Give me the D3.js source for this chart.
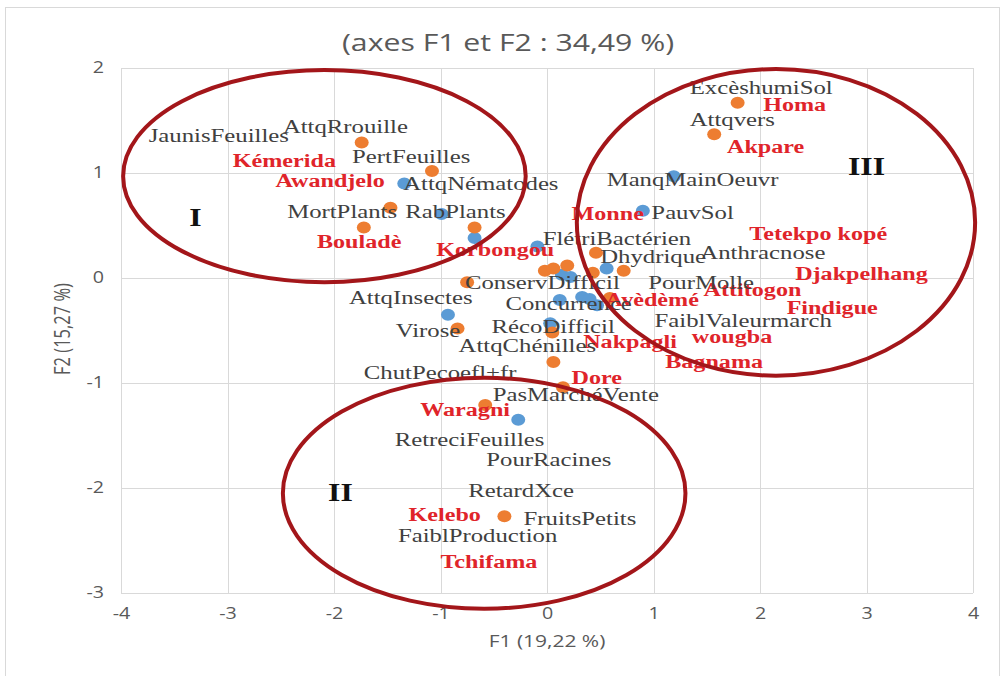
<!DOCTYPE html>
<html>
<head>
<meta charset="utf-8">
<script src="https://cdn.jsdelivr.net/npm/d3@7"></script>
<style>
  html, body { margin: 0; padding: 0; background: #fff; }
  svg { display: block; }
</style>
</head>
<body>
<svg id="chart" width="1006" height="676"></svg>
<script>
// Axis ticks
const xTicks = [-4, -3, -2, -1, 0, 1, 2, 3, 4];
const yTicks = [-3, -2, -1, 0, 1, 2];

// Observation scores (orange series) on F1 / F2
const obsF1 = [1.79, 1.57, -1.74, -1.08, -1.47, -1.72, -0.68, 0.46, -0.02, 0.06, 0.19, 0.43, 0.72, -0.75, 0.59, -0.84, 0.05, 0.06, 0.15, -0.58, -0.40];
const obsF2 = [1.67, 1.37, 1.29, 1.02, 0.67, 0.48, 0.48, 0.24, 0.07, 0.09, 0.12, 0.05, 0.07, -0.04, -0.19, -0.48, -0.52, -0.80, -1.04, -1.21, -2.27];

// Variable scores (blue series) on F1 / F2
const varF1 = [1.19, 0.90, -1.34, -0.99, -0.68, -0.09, 0.14, 0.22, 0.56, 0.12, 0.33, 0.40, 0.47, -0.93, 0.03, -0.27];
const varF2 = [0.97, 0.64, 0.90, 0.61, 0.38, 0.30, 0.03, 0.01, 0.09, -0.21, -0.18, -0.20, -0.26, -0.35, -0.43, -1.35];

// Variable names and where they sit on the map (F1, F2)
const varNames = ["JaunisFeuilles", "AttqRrouille", "PertFeuilles", "AttqNématodes", "MortPlants", "RabPlants",
  "FlétriBactérien", "Dhydrique", "Anthracnose", "ExcèshumiSol", "Attqvers", "ManqMainOeuvr", "PauvSol",
  "ConservDifficil", "PourMolle", "Concurrence", "AttqInsectes", "Virose", "RécoDifficil", "AttqChénilles",
  "FaiblValeurmarch", "ChutPecoefl+fr", "PasMarchéVente", "RetreciFeuilles", "PourRacines", "RetardXce",
  "FruitsPetits", "FaiblProduction"];
const varNameF1 = [-3.74, -2.48, -1.83, -1.35, -2.44, -1.33, -0.04, 0.50, 1.44, 1.34, 1.34, 0.56, 0.98,
  -0.77, 0.95, -0.39, -1.86, -1.42, -0.52, -0.83, 1.01, -1.72, -0.51, -1.43, -0.57, -0.74, -0.22, -1.40];
const varNameF2 = [1.36, 1.44, 1.16, 0.90, 0.63, 0.63, 0.38, 0.20, 0.24, 1.81, 1.51, 0.94, 0.62,
  -0.04, -0.04, -0.24, -0.19, -0.50, -0.46, -0.64, -0.41, -0.90, -1.11, -1.54, -1.73, -2.02, -2.29, -2.45];

// Village names and where they sit on the map (F1, F2)
const siteNames = ["Homa", "Akpare", "Kémerida", "Awandjelo", "Bouladè", "Korbongou", "Monne", "Tetekpo kopé",
  "Djakpelhang", "Attitogon", "Findigue", "Avèdèmé", "Nakpagli", "wougba", "Bagnama", "Dore", "Waragni",
  "Kelebo", "Tchifama"];
const siteNameF1 = [2.03, 1.69, -2.95, -2.55, -2.16, -1.04, 0.23, 1.90, 2.33, 1.47, 2.25, 0.55, 0.34, 1.36, 1.11, 0.23, -1.19, -1.30, -1.00];
const siteNameF2 = [1.65, 1.25, 1.12, 0.93, 0.35, 0.27, 0.61, 0.42, 0.04, -0.11, -0.28, -0.21, -0.61, -0.56, -0.80, -0.95, -1.25, -2.25, -2.70];

// Groups drawn as ellipses: label, centre (F1, F2), half-widths (F1, F2)
const groupLabels = ["I", "II", "III"];
const groupCF1 = [-2.09, -0.59, 2.15];
const groupCF2 = [0.97, -2.05, 0.53];
const groupRF1 = [1.89, 1.89, 1.87];
const groupRF2 = [1.01, 1.10, 1.46];
const groupLabelF1 = [-3.30, -1.94, 3.00];
const groupLabelF2 = [0.58, -2.04, 1.06];

const svg = d3.select("#chart");
const plotLeft = 121, plotRight = 973, plotTop = 68, plotBottom = 593;
const stretch = 1.27;          // text is drawn wide relative to its height
const sans = "'Open Sans', sans-serif";
const serif = "'Liberation Serif', 'Times New Roman', serif";

const x = d3.scaleLinear().domain([-4, 4]).range([plotLeft, plotRight]);
const y = d3.scaleLinear().domain([-3, 2]).range([plotBottom, plotTop]);

// outer frame
svg.append("rect")
  .attr("x", 5.5).attr("y", 7.5).attr("width", 994).attr("height", 700)
  .attr("fill", "none").attr("stroke", "#d9d9d9").attr("stroke-width", 1);

// title
svg.append("text")
  .attr("transform", `translate(508,51) scale(${stretch},1)`)
  .attr("text-anchor", "middle")
  .attr("font-family", sans)
  .attr("font-size", 23.8)
  .attr("fill", "#595959")
  .text("(axes F1 et F2 : 34,49 %)");

// grid
const grid = svg.append("g").attr("stroke", "#d9d9d9").attr("stroke-width", 1);
grid.selectAll("line.v").data(xTicks).join("line")
  .attr("x1", d => Math.round(x(d)) + 0.5).attr("x2", d => Math.round(x(d)) + 0.5)
  .attr("y1", plotTop).attr("y2", plotBottom);
grid.selectAll("line.h").data(yTicks).join("line")
  .attr("y1", d => Math.round(y(d)) + 0.5).attr("y2", d => Math.round(y(d)) + 0.5)
  .attr("x1", plotLeft).attr("x2", plotRight);

// axes
const fmt = d => String(d);
const xAxis = svg.append("g")
  .attr("transform", `translate(0,${plotBottom + 15})`)
  .call(d3.axisBottom(x).tickValues(xTicks).tickFormat(fmt).tickSize(0).tickPadding(0));
const yAxis = svg.append("g")
  .attr("transform", `translate(${plotLeft - 17},0)`)
  .call(d3.axisLeft(y).tickValues(yTicks).tickFormat(fmt).tickSize(0).tickPadding(0));
[xAxis, yAxis].forEach(g => {
  g.select(".domain").remove();
  g.selectAll("text")
    .attr("transform", `scale(${stretch},1)`)
    .attr("font-family", sans)
    .attr("font-size", 15.5)
    .attr("fill", "#595959");
});

// axis titles
svg.append("text")
  .attr("transform", `translate(547,647) scale(${stretch},1)`)
  .attr("text-anchor", "middle")
  .attr("font-family", sans)
  .attr("font-size", 16.5).attr("fill", "#595959")
  .text("F1 (19,22 %)");
svg.append("text")
  .attr("transform", `translate(70,329) rotate(-90) scale(1,${stretch})`)
  .attr("text-anchor", "middle")
  .attr("font-family", sans)
  .attr("font-size", 16.5).attr("fill", "#595959")
  .text("F2 (15,27 %)");

// points
const varPts = varF1.map((v, i) => ({ f1: v, f2: varF2[i] }));
const obsPts = obsF1.map((v, i) => ({ f1: v, f2: obsF2[i] }));
svg.append("g").selectAll("ellipse").data(varPts).join("ellipse")
  .attr("cx", d => x(d.f1)).attr("cy", d => y(d.f2)).attr("rx", 7).attr("ry", 6)
  .attr("fill", "#5b9bd5");
svg.append("g").selectAll("ellipse").data(obsPts).join("ellipse")
  .attr("cx", d => x(d.f1)).attr("cy", d => y(d.f2)).attr("rx", 7).attr("ry", 6)
  .attr("fill", "#ed7d31");

// village labels
svg.append("g").selectAll("text").data(siteNames).join("text")
  .attr("transform", (d, i) => `translate(${x(siteNameF1[i])},${y(siteNameF2[i])}) scale(${stretch},1)`)
  .attr("dy", "0.33em")
  .attr("font-family", serif)
  .attr("font-weight", "bold")
  .attr("font-size", 19)
  .attr("fill", "#e0242a")
  .text(d => d);

// variable labels
svg.append("g").selectAll("text").data(varNames).join("text")
  .attr("transform", (d, i) => `translate(${x(varNameF1[i])},${y(varNameF2[i])}) scale(${stretch},1)`)
  .attr("dy", "0.33em")
  .attr("font-family", serif)
  .attr("font-size", 19.5)
  .attr("fill", "#404040")
  .text(d => d);

// group ellipses
svg.append("g").selectAll("ellipse").data(groupLabels).join("ellipse")
  .attr("cx", (d, i) => x(groupCF1[i]))
  .attr("cy", (d, i) => y(groupCF2[i]))
  .attr("rx", (d, i) => x(groupRF1[i]) - x(0))
  .attr("ry", (d, i) => y(0) - y(groupRF2[i]))
  .attr("fill", "none")
  .attr("stroke", "#a3161a")
  .attr("stroke-width", 4);

// group numerals
svg.append("g").selectAll("text").data(groupLabels).join("text")
  .attr("transform", (d, i) => `translate(${x(groupLabelF1[i])},${y(groupLabelF2[i])}) scale(${stretch},1)`)
  .attr("dy", "0.35em")
  .attr("text-anchor", "middle")
  .attr("font-family", serif)
  .attr("font-weight", "bold")
  .attr("font-size", 25)
  .attr("fill", "#111")
  .text(d => d);
</script>
</body>
</html>
